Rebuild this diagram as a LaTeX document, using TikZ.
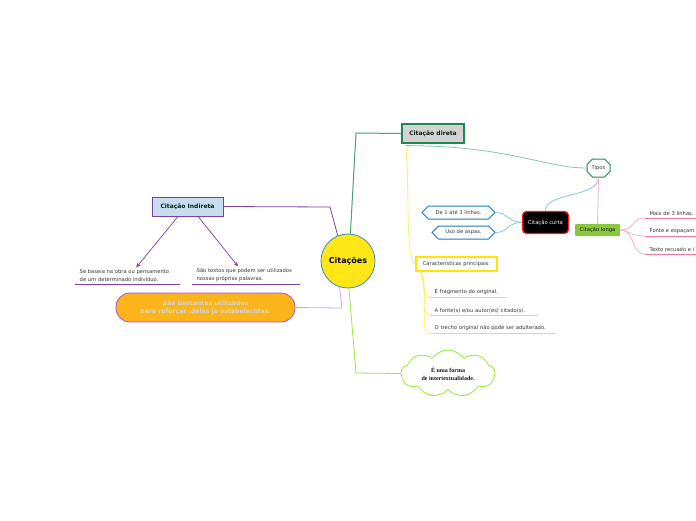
\documentclass[tikz,border=0pt]{standalone}
\usepackage{fontspec}
\setmainfont{DejaVu Sans}
\newfontfamily\serifb{Liberation Serif}
\usetikzlibrary{shapes.geometric,shapes.misc,shapes.symbols,arrows.meta}
\definecolor{cyel}{HTML}{FFE617}
\definecolor{cblue}{HTML}{3A8CC4}
\definecolor{dgreen}{HTML}{1F8A50}
\definecolor{lgray}{HTML}{D3D3D3}
\definecolor{lblue}{HTML}{C6DEF0}
\definecolor{purp}{HTML}{7B3FA8}
\definecolor{orng}{HTML}{FBB51B}
\definecolor{mag}{HTML}{B44CE6}
\definecolor{lpurp}{HTML}{D9A2F2}
\definecolor{lime}{HTML}{9BEA3A}
\definecolor{ylw}{HTML}{FFE500}
\definecolor{lylw}{HTML}{FFEE66}
\definecolor{teal}{HTML}{86C8A4}
\definecolor{hblue}{HTML}{1E7DBE}
\definecolor{sblue}{HTML}{8CC4E2}
\definecolor{pink}{HTML}{F7B0CB}
\definecolor{dpink}{HTML}{F07AA2}
\definecolor{lgreen}{HTML}{8CC63F}
\definecolor{txt}{HTML}{333333}
\tikzset{
  small/.style={font=\fontsize{5.2}{8}\selectfont, text=txt},
  boxlbl/.style={font=\bfseries\fontsize{6}{8}\selectfont, text=black!75!dgreen},
  leaf/.style={small, anchor=south west, align=left, inner xsep=4.5pt, inner ysep=2pt, text width=#1},
}
\begin{document}
\begin{tikzpicture}[x=1pt,y=-1pt]
\useasboundingbox (0,0) rectangle (696,520);
\fill[white] (0,0) rectangle (696,520);
\begin{scope}
\clip (0,0) rectangle (696,520);
% nodes
\node[circle, fill=cyel, draw=cblue, line width=0.8pt, minimum size=54pt, inner sep=0pt,
      font=\bfseries\fontsize{8}{10}\selectfont, text=black!80!blue] (cen) at (348,261) {Citações};
\node[rectangle, fill=lgray, draw=dgreen, line width=2.2pt, minimum width=62pt, minimum height=19pt, inner sep=0pt, boxlbl] (dir) at (433,133.5) {Citação direta};
\node[rectangle, fill=lblue, draw=purp, line width=0.8pt, minimum width=71pt, minimum height=19pt, inner sep=0pt, boxlbl] (ind) at (187.5,206.5) {Citação Indireta};
\node[rectangle, rounded corners=14pt, fill=orng, draw=mag, line width=0.8pt, minimum width=179pt, minimum height=29pt, inner sep=0pt, align=center,
      font=\bfseries\fontsize{6.2}{8}\selectfont, text=black!17] (org) at (205.5,307.5) {São bastantes utilizados\\para reforçar ideias ja estabelecidas.};
\node[cloud, cloud puffs=9, cloud puff arc=110, aspect=2.1, draw=lime, fill=white, line width=0.8pt, minimum width=94pt, minimum height=46pt, inner sep=0pt, align=center,
      font=\serifb\bfseries\fontsize{6}{8}\selectfont, text=black!80!dgreen] (cld) at (448,373.5) {É uma forma\\de intertextualidade.};
\node[rectangle, draw=ylw, line width=1.2pt, fill=white, minimum width=81pt, minimum height=14pt, inner sep=0pt, small] (car) at (456.5,264) {Características principais:};
\node[chamfered rectangle, chamfered rectangle xsep=3pt, chamfered rectangle ysep=3pt, draw=dgreen, line width=1pt, fill=white, minimum width=23pt, minimum height=18pt, inner sep=0pt, small] (tip) at (598.5,168) {Tipos};
\node[rectangle, rounded corners=4pt, fill=black, draw=red!90!white, line width=1.2pt, minimum width=46pt, minimum height=22pt, inner sep=0pt, font=\fontsize{5.2}{7}\selectfont, text=white] (cur) at (545.5,222.5) {Citação curta};
\node[signal, signal to=east and west, draw=hblue, line width=1pt, fill=white, minimum width=73pt, minimum height=13pt, inner sep=0pt, small] (de1) at (458.5,212.5) {De 1 até 3 linhas.};
\node[signal, signal to=east and west, draw=hblue, line width=1pt, fill=white, minimum width=63pt, minimum height=13pt, inner sep=0pt, small] (uso) at (463.5,232.5) {Uso de aspas.};
\node[rectangle, rounded corners=1pt, fill=lgreen, minimum width=45pt, minimum height=12pt, inner sep=0pt, small, text=black!80!dgreen] (lon) at (597.5,230) {Citação longa};
% leaves
\node[leaf=96pt] (s1) at (75,284) {Se baseia na obra ou pensamento\\de um determinado indivíduo.};
\node[leaf=99pt] (s2) at (192,284) {São textos que podem ser utilizados\\nossas próprias palavras.};
\node[leaf=68pt] (c1) at (430,297) {É fragmento do original.};
\node[leaf=99pt] (c2) at (430,315) {A fonte(s) e/ou autor(es) citado(s).};
\node[leaf=117pt] (c3) at (430,333) {O trecho original não pode ser adulterado.};
\node[leaf=51pt] (l1) at (645,218) {Mais de 3 linhas.};
\node[leaf=51pt] (l2) at (645,236) {Fonte e espaçam};
\node[leaf=51pt] (l3) at (645,254) {Texto recuado e i};
% underlines
\draw[purp, line width=1pt] (s1.south west) -- (s1.south east);
\draw[purp, line width=1pt] (s2.south west) -- (s2.south east);
\draw[ylw, line width=0.9pt] (c1.south west) -- (c1.south east);
\draw[ylw, line width=0.9pt] (c2.south west) -- (c2.south east);
\draw[ylw, line width=0.9pt] (c3.south west) -- (c3.south east);
\draw[dpink, line width=1pt] (l1.south west) -- (l1.south east);
\draw[dpink, line width=1pt] (l2.south west) -- (l2.south east);
\draw[dpink, line width=1pt] (l3.south west) -- (l3.south east);
% connectors from centre
\draw[dgreen!80!white, line width=1pt] (cen.85) -- (356,133) -- (dir.west);
\draw[purp, line width=0.8pt] (cen.112) -- (330,207) -- (ind.east);
\draw[lpurp, line width=0.8pt] (cen.252) -- (342,308) -- (org.east);
\draw[lime, line width=0.8pt] (cen.272) -- (356,373) -- (cld.west);
% arrows from indireta
\draw[purp, line width=0.7pt, -{Stealth[length=5pt,width=4pt]}] ([xshift=-9.5pt]ind.south) -- ([xshift=8.5pt]s1.north);
\draw[purp, line width=0.7pt, -{Stealth[length=5pt,width=4pt]}] ([xshift=10.5pt]ind.south) -- ([xshift=-8pt]s2.north);
% direta branches
\coordinate (dsw) at ([xshift=5pt,yshift=-1.5pt]dir.south west);
\draw[lylw, line width=0.8pt] (dsw) .. controls (410,200) and (405,258) .. (car.west);
\draw[teal, line width=0.8pt] (dsw) .. controls (510,146) and (545,168) .. (tip.west);
% characteristics
\coordinate (cs) at ([xshift=-36pt]car.south);
\draw[lylw, line width=0.8pt] (cs) .. controls (426,280) and (422,297) .. (c1.south west);
\draw[lylw, line width=0.8pt] (cs) .. controls (428,290) and (420,315) .. (c2.south west);
\draw[lylw, line width=0.8pt] (cs) .. controls (430,300) and (418,333) .. (c3.south west);
% tipos
\draw[sblue, line width=0.8pt] (tip.south) .. controls (598,198) and (545,192) .. (cur.north);
\draw[pink, line width=0.8pt] (tip.south) -- (lon.north);
\draw[sblue, line width=0.8pt] (cur.west) .. controls (508,222) and (508,212.5) .. (de1.east);
\draw[sblue, line width=0.8pt] (cur.west) .. controls (508,222) and (508,232.5) .. (uso.east);
\draw[pink, line width=0.8pt] (lon.east) .. controls (636,230) and (630,218) .. (l1.south west);
\draw[pink, line width=0.8pt] (lon.east) .. controls (632,232) and (632,236) .. (l2.south west);
\draw[pink, line width=0.8pt] (lon.east) .. controls (636,230) and (630,254) .. (l3.south west);
\end{scope}
\end{tikzpicture}
\end{document}
